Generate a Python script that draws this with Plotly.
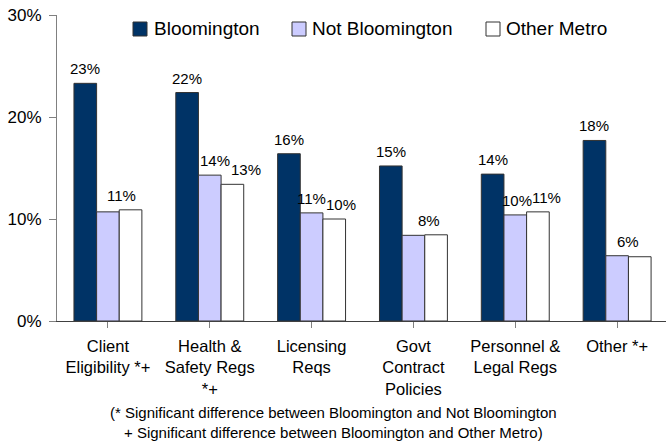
import plotly.graph_objects as go

# ---- data -------------------------------------------------------------
categories = [
    "Client<br>Eligibility *+",
    "Health &<br>Safety Regs<br>*+",
    "Licensing<br>Reqs",
    "Govt<br>Contract<br>Policies",
    "Personnel &<br>Legal Regs",
    "Other *+",
]
series_names = ["Bloomington", "Not Bloomington", "Other Metro"]
bloomington = [23.3, 22.4, 16.4, 15.2, 14.4, 17.7]
not_bloomington = [10.7, 14.3, 10.6, 8.4, 10.4, 6.4]
other_metro = [10.9, 13.4, 10.0, 8.45, 10.7, 6.3]
y_ticks = [0, 10, 20, 30]
y_tick_text = ["0%", "10%", "20%", "30%"]

# which bars carry a value label (None = no label), with a small horizontal nudge in px
bloom_label_dx = [0, 0, 0, 0, 0, 0]
not_label_dx = [None, 5, 0, None, 2, 11]
other_label_dx = [-9, 14, 7, -7, 9, None]

footnote = ("(* Significant difference between Bloomington and Not Bloomington<br>"
            "+ Significant difference between Bloomington and Other Metro)")

# ---- style ------------------------------------------------------------
W, H = 666, 447
ML, MR, MT, MB = 57, 0, 15, 126
PW, PH = W - ML - MR, H - MT - MB
FONT = "Liberation Sans, Arial, sans-serif"
colors = ["#003366", "#CCCCFF", "#FFFFFF"]
values = [bloomington, not_bloomington, other_metro]
label_dx = [bloom_label_dx, not_label_dx, other_label_dx]
OUTLINE = "#333333"

BARGAP = 0.333


def px_x(px):
    return (px - ML) / PW


def px_y(py):
    return (H - MB - py) / PH


fig = go.Figure()
for name, vals, col in zip(series_names, values, colors):
    fig.add_trace(go.Bar(
        x=list(range(len(categories))), y=vals, name=name,
        marker=dict(color=col, line=dict(color=OUTLINE, width=1)),
        showlegend=False, hoverinfo="skip",
    ))

# value labels placed above their bars
n_series = len(series_names)
bar_w = (1 - BARGAP) / n_series
annotations = []
for s, (vals, dxs) in enumerate(zip(values, label_dx)):
    offset = -(1 - BARGAP) / 2 + bar_w * (s + 0.5)
    for i, (v, dx) in enumerate(zip(vals, dxs)):
        if dx is None:
            continue
        annotations.append(dict(
            x=i + offset, y=v, xref="x", yref="y", text=f"{v:.0f}%",
            showarrow=False, yanchor="bottom", xanchor="center",
            xshift=dx, yshift=4, font=dict(size=15, color="#000000", family=FONT),
        ))

# legend row drawn as swatches plus labels
legend_px = [(133, 152), (292, 310), (486, 504)]
shapes = []
for (sx, tx), name, col in zip(legend_px, series_names, colors):
    shapes.append(dict(
        type="rect", xref="paper", yref="paper",
        x0=px_x(sx), x1=px_x(sx + 14), y0=px_y(36), y1=px_y(22),
        fillcolor=col, line=dict(color=OUTLINE, width=1),
    ))
    annotations.append(dict(
        x=px_x(tx), y=px_y(29), xref="paper", yref="paper", text=name,
        showarrow=False, xanchor="left", yanchor="middle",
        font=dict(size=19, color="#000000", family=FONT),
    ))

annotations.append(dict(
    x=px_x(W / 2), y=px_y(422), xref="paper", yref="paper", text=footnote,
    showarrow=False, xanchor="center", yanchor="middle", align="center",
    font=dict(size=15, color="#000000", family=FONT),
))

fig.update_layout(
    width=W, height=H,
    margin=dict(l=ML, r=MR, t=MT, b=MB, pad=0),
    paper_bgcolor="#FFFFFF", plot_bgcolor="#FFFFFF",
    barmode="group", bargap=BARGAP, bargroupgap=0,
    font=dict(family=FONT, color="#000000"),
    annotations=annotations, shapes=shapes,
    showlegend=False,
    xaxis=dict(
        tickmode="array", tickvals=list(range(len(categories))), ticktext=categories,
        range=[-0.5, len(categories) - 0.52], tickson="boundaries",
        ticks="outside", ticklen=6, tickcolor="#808080", tickwidth=1,
        showline=True, linecolor="#404040", linewidth=1,
        showgrid=False, zeroline=False, tickangle=0,
        tickfont=dict(size=16.5, family=FONT, color="#000000"),
        ticklabelstandoff=4,
    ),
    yaxis=dict(
        range=[0, 30], tickmode="array", tickvals=y_ticks, ticktext=y_tick_text,
        ticks="outside", ticklen=7, tickcolor="#808080", tickwidth=1,
        showline=True, linecolor="#808080", linewidth=1,
        showgrid=False, zeroline=False,
        tickfont=dict(size=17, family=FONT, color="#000000"),
        ticklabelstandoff=4,
    ),
)

fig.write_html("out.html")
